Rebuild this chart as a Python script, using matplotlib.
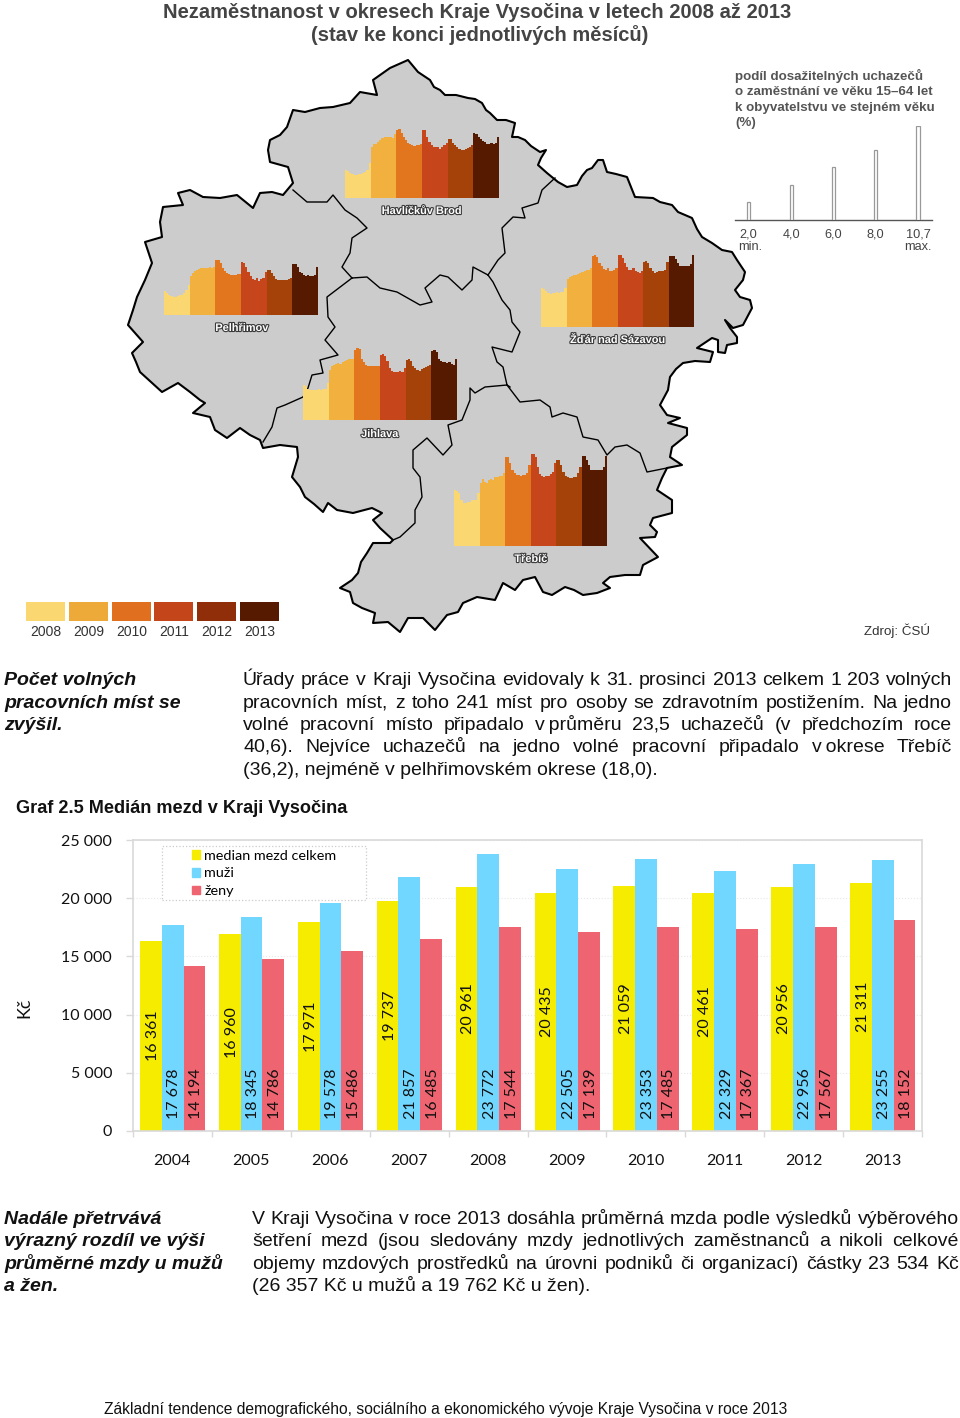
"""Map of unemployment in Vysocina districts with a wage bar chart below."""
import matplotlib
matplotlib.use('Agg')
import matplotlib.pyplot as plt
import matplotlib.patheffects as pe
from matplotlib.patches import Polygon, Patch, Rectangle

W, H = 960, 1418
BODY = 'Liberation Sans'
CHART = 'Lato'

# --- map outlines (image pixels) ---
outline = [
    (408, 60), (413, 66), (418, 72), (430, 80), (434, 87), (440, 90), (445, 95), (456, 95), (468, 98),
    (475, 99), (482, 103), (486, 110), (490, 113), (497, 120), (506, 120), (515, 123), (512, 137), (518, 137),
    (525, 140), (531, 146), (540, 152), (546, 150), (541, 158), (538, 165), (547, 173), (558, 182), (567, 187),
    (577, 185), (582, 176), (587, 170), (592, 168), (598, 160), (603, 160), (607, 172), (616, 174), (627, 177),
    (631, 187), (635, 197), (653, 198), (660, 202), (672, 205), (678, 212), (692, 218), (697, 229), (702, 237),
    (712, 243), (722, 250), (732, 252), (737, 260), (745, 272), (743, 280), (735, 290), (740, 297), (750, 300),
    (752, 308), (743, 325), (733, 328), (725, 320), (730, 328), (737, 337), (737, 343), (727, 345), (725, 353),
    (718, 352), (718, 340), (712, 338), (697, 348), (713, 352), (710, 362), (695, 361), (683, 363), (676, 369),
    (670, 377), (668, 390), (660, 405), (667, 415), (680, 418), (668, 423), (687, 428), (687, 435), (672, 447),
    (670, 457), (682, 465), (667, 468), (662, 478), (657, 490), (672, 500), (672, 513), (653, 518), (650, 525),
    (657, 532), (655, 537), (640, 538), (658, 557), (643, 565), (640, 575), (625, 575), (610, 577), (603, 583),
    (610, 588), (597, 593), (583, 595), (574, 590), (565, 587), (552, 595), (543, 592), (535, 577), (523, 580),
    (515, 590), (503, 583), (495, 600), (477, 597), (463, 603), (458, 612), (447, 615), (435, 630), (423, 618),
    (408, 618), (400, 632), (388, 622), (373, 623), (375, 613), (362, 608), (353, 603), (350, 592), (340, 588),
    (352, 580), (358, 573), (361, 562), (367, 553), (373, 543), (390, 543), (393, 540), (380, 528), (373, 520),
    (382, 513), (372, 508), (353, 513), (337, 510), (328, 503), (323, 512), (314, 504), (305, 497), (300, 487),
    (292, 477), (298, 457), (297, 447), (280, 445), (263, 448), (260, 440), (250, 435), (240, 428), (227, 438),
    (215, 430), (210, 417), (193, 413), (205, 403), (200, 400), (190, 392), (178, 383), (162, 392), (151, 382),
    (140, 372), (136, 362), (132, 353), (143, 342), (128, 325), (133, 310), (137, 297), (145, 280), (152, 263),
    (145, 242), (162, 237), (160, 222), (163, 207), (183, 205), (178, 193), (190, 190), (203, 197), (220, 198),
    (237, 195), (253, 208), (260, 193), (272, 192), (283, 195), (293, 183), (288, 167), (270, 162), (268, 150),
    (270, 140), (280, 135), (287, 127), (293, 110), (305, 112), (320, 108), (333, 107), (350, 103), (360, 92),
    (377, 95), (373, 80), (390, 68),
]
border_pe_hb = [(293, 190), (307, 202), (327, 202), (333, 195), (345, 210), (357, 218), (367, 228), (352, 238),
                (350, 253), (342, 267), (352, 278)]
border_pe_ji = [(352, 278), (327, 297), (328, 317), (335, 327), (325, 340), (338, 355), (320, 360), (323, 373),
                (312, 375), (308, 388), (303, 397), (285, 405), (277, 408), (272, 427), (263, 442)]
border_hb_ji = [(352, 278), (367, 277), (380, 288), (397, 292), (420, 305), (432, 302), (425, 288), (440, 275),
                (448, 277), (462, 290), (472, 280), (473, 267), (488, 275)]
border_hb_zr = [(488, 275), (498, 260), (505, 253), (502, 228), (513, 217), (525, 218), (522, 208), (538, 203),
                (542, 190), (555, 178)]
border_ji_zr = [(488, 275), (493, 282), (502, 300), (510, 310), (512, 322), (520, 332), (512, 352), (492, 347),
                (497, 362), (503, 367), (507, 385), (510, 387)]
border_ji_tr = [(507, 385), (485, 387), (475, 393), (470, 388), (470, 400), (462, 420), (448, 425), (452, 445),
                (443, 455), (427, 438), (413, 450), (413, 468), (420, 477), (422, 497), (415, 510), (415, 523),
                (400, 537), (393, 540)]
border_zr_tr = [(507, 385), (520, 402), (540, 400), (550, 407), (552, 417), (563, 413), (577, 417), (583, 437),
                (598, 440), (607, 455), (615, 447), (627, 445), (640, 453), (647, 472), (667, 468)]

# --- monthly share of unemployed (%), 12 values per year 2008-2013 ---
havlickuv_brod = [
    3.2, 3.1, 2.9, 2.7, 2.6, 2.6, 2.7, 2.7, 2.8, 3.0, 3.2, 4.0,
    5.8, 6.1, 6.2, 6.4, 6.6, 6.8, 7.0, 7.0, 6.9, 7.0, 6.8, 7.3,
    7.7, 7.8, 7.4, 6.9, 6.6, 6.3, 6.1, 6.0, 5.9, 6.0, 6.0, 6.1,
    7.7, 7.7, 7.0, 6.4, 6.0, 5.8, 5.8, 5.8, 5.6, 5.8, 6.0, 6.3,
    6.7, 6.7, 6.3, 6.0, 5.8, 5.6, 5.5, 5.5, 5.6, 5.7, 5.8, 6.0,
    7.4, 7.3, 7.0, 6.7, 6.5, 6.4, 6.2, 6.2, 6.3, 6.2, 6.3, 7.0]
pelhrimov = [
    2.7, 2.5, 2.3, 2.2, 2.0, 2.1, 2.2, 2.3, 2.3, 2.5, 2.8, 3.4,
    4.4, 4.8, 5.0, 5.1, 5.2, 5.3, 5.3, 5.4, 5.3, 5.5, 5.3, 5.5,
    6.3, 6.3, 5.9, 5.3, 5.0, 4.8, 4.7, 4.5, 4.5, 4.5, 4.7, 4.7,
    6.0, 5.9, 5.5, 4.9, 4.4, 4.1, 4.0, 4.2, 3.9, 4.1, 4.2, 4.9,
    5.1, 5.1, 4.8, 4.4, 4.1, 4.0, 4.0, 4.0, 4.0, 4.0, 4.1, 4.2,
    5.8, 5.8, 5.5, 4.9, 4.8, 4.5, 4.4, 4.5, 4.4, 4.4, 4.5, 5.5]
jihlava = [
    4.0, 3.9, 3.5, 3.4, 3.4, 3.4, 3.4, 3.5, 3.4, 3.5, 3.5, 4.2,
    5.7, 6.2, 6.3, 6.4, 6.5, 6.4, 6.6, 6.7, 6.8, 6.9, 7.0, 7.0,
    8.0, 8.2, 8.1, 7.0, 6.6, 6.3, 6.2, 6.1, 6.1, 6.1, 6.1, 6.2,
    7.4, 7.5, 7.3, 6.7, 5.9, 5.6, 5.5, 5.5, 5.5, 5.6, 5.5, 5.9,
    6.8, 6.9, 6.7, 6.2, 5.9, 5.7, 5.6, 5.8, 5.9, 6.0, 6.1, 6.3,
    7.9, 8.0, 7.7, 6.9, 6.7, 6.6, 6.6, 6.5, 6.6, 6.4, 6.3, 7.0]
zdar = [
    4.4, 4.3, 4.1, 3.9, 3.8, 3.9, 3.9, 4.0, 3.9, 4.0, 4.0, 4.4,
    5.5, 5.7, 5.8, 5.9, 5.9, 6.0, 6.1, 6.3, 6.4, 6.5, 6.5, 6.7,
    8.1, 8.2, 8.0, 7.3, 6.9, 6.6, 6.5, 6.7, 6.4, 6.4, 6.5, 6.7,
    8.2, 8.2, 7.9, 7.3, 6.8, 6.5, 6.5, 6.7, 6.4, 6.3, 6.2, 6.4,
    7.4, 7.5, 7.3, 6.7, 6.4, 6.2, 6.3, 6.4, 6.4, 6.4, 6.5, 7.4,
    8.1, 8.1, 8.1, 7.7, 7.3, 7.0, 6.9, 6.9, 7.0, 7.0, 7.2, 8.2]
trebic = [
    6.4, 6.3, 6.0, 5.2, 4.9, 4.9, 5.0, 5.0, 5.2, 5.2, 5.2, 6.0,
    7.2, 7.6, 7.3, 7.2, 7.5, 7.6, 7.5, 7.8, 7.8, 8.0, 8.0, 8.3,
    10.1, 10.1, 9.4, 8.6, 8.3, 8.1, 8.1, 8.0, 8.1, 8.1, 8.3, 9.2,
    10.5, 10.5, 10.1, 9.0, 8.2, 8.0, 7.8, 8.0, 8.0, 8.2, 8.4, 9.4,
    9.8, 9.8, 9.2, 8.4, 8.0, 7.8, 7.7, 7.7, 7.8, 7.9, 8.3, 9.0,
    10.2, 10.2, 9.8, 9.2, 8.6, 8.6, 8.6, 8.7, 8.6, 8.7, 9.0, 10.2]

map_years = ['2008', '2009', '2010', '2011', '2012', '2013']
year_colors = ['#FAD771', '#F2B13E', '#E2761E', '#C7451A', '#A4420A', '#551A00']
legend_colors = ['#FAD771', '#EDAA38', '#E0701F', '#C4451A', '#8F2E08', '#551A00']
scale_values = [2.0, 4.0, 6.0, 8.0, 10.7]
scale_labels = ['2,0', '4,0', '6,0', '8,0', '10,7']

# --- wage chart ---
wage_years = ['2004', '2005', '2006', '2007', '2008', '2009', '2010', '2011', '2012', '2013']
wage_total = [16361, 16960, 17971, 19737, 20961, 20435, 21059, 20461, 20956, 21311]
wage_men = [17678, 18345, 19578, 21857, 23772, 22505, 23353, 22329, 22956, 23255]
wage_women = [14194, 14786, 15486, 16485, 17544, 17139, 17485, 17367, 17567, 18152]


def px_axes(fig, x0, y0, x1, y1):
    """Axes placed by image pixels (y counted from the top)."""
    return fig.add_axes([x0 / W, 1 - y1 / H, (x1 - x0) / W, (y1 - y0) / H])


def justified(ax, words, x0, x1, y, size):
    """Spread the words of one line evenly between x0 and x1."""
    rend = ax.figure.canvas.get_renderer()
    items = [ax.text(x0, y, w, family=BODY, fontsize=size, color='#111111', va='baseline') for w in words]
    widths = [t.get_window_extent(rend).width for t in items]
    gap = (x1 - x0 - sum(widths)) / (len(words) - 1)
    x = x0
    for t, w in zip(items, widths):
        t.set_x(x)
        x += w + gap


def plain_lines(ax, lines, x, ys, size, **kw):
    for line, y in zip(lines, ys):
        ax.text(x, y, line, family=BODY, fontsize=size, va='baseline', color='#111111', **kw)


def district_chart(fig, values, x0, x1, base):
    # 94 px is the height of the 10,7 % scale bar
    ax = px_axes(fig, x0, base - 94, x1, base)
    colors = [c for c in year_colors for _ in range(12)]
    ax.bar(range(72), values, width=1.0, align='edge', color=colors, linewidth=0)
    ax.set_xlim(0, 72)
    ax.set_ylim(0, 10.7)
    ax.axis('off')


def main():
    fig = plt.figure(figsize=(W / 100, H / 100), dpi=100)
    bg = fig.add_axes([0, 0, 1, 1])
    bg.set_xlim(0, W)
    bg.set_ylim(H, 0)
    bg.axis('off')

    # map
    bg.add_patch(Polygon(outline, closed=True, facecolor='#CCCCCC', edgecolor='black',
                         linewidth=1.5, joinstyle='round'))
    for b in (border_pe_hb, border_pe_ji, border_hb_ji, border_hb_zr, border_ji_zr, border_ji_tr, border_zr_tr):
        bg.plot(*zip(*b), color='black', linewidth=1.0)

    # title
    bg.text(477.5, 18, 'Nezaměstnanost v okresech Kraje Vysočina v letech 2008 až 2013', family=BODY,
            weight='bold', fontsize=14.48, color='#444444', ha='center', va='baseline')
    bg.text(480, 41, '(stav ke konci jednotlivých měsíců)', family=BODY, weight='bold', fontsize=14.48,
            color='#444444', ha='center', va='baseline')

    # district charts
    district_chart(fig, havlickuv_brod, 345, 499, 198)
    district_chart(fig, pelhrimov, 164, 318, 315)
    district_chart(fig, jihlava, 303, 457, 420)
    district_chart(fig, zdar, 541, 694, 327)
    district_chart(fig, trebic, 454, 607, 546)
    for name, x, y in [('Havlíčkův Brod', 422, 210), ('Pelhřimov', 242, 327), ('Jihlava', 380, 433),
                       ('Žďár nad Sázavou', 618, 339), ('Třebíč', 531, 558)]:
        bg.text(x, y + 4, name, family=BODY, weight='bold', fontsize=7.9, color='white', ha='center', va='baseline',
                path_effects=[pe.withStroke(linewidth=1.6, foreground='#3A3A3A')])

    # scale of the map charts
    for line, y in zip(['podíl dosažitelných uchazečů', 'o zaměstnání ve věku 15–64 let',
                        'k obyvatelstvu ve stejném věku', '(%)'], [80, 95, 110.5, 126]):
        bg.text(735, y, line, family=BODY, weight='bold', fontsize=9.6, color='#555555', va='baseline')
    scale = px_axes(fig, 735, 126, 932, 220)
    scale_x = [13.7, 56.5, 98.5, 140.7, 183]
    scale.bar(scale_x, scale_values, width=3.2, facecolor='white', edgecolor='#999999', linewidth=0.9)
    scale.set_xlim(0, 197)
    scale.set_ylim(0, 10.7)
    scale.axis('off')
    bg.plot([735, 932], [220, 220], color='#555555', linewidth=1.0)
    for x, lab in zip(scale_x, scale_labels):
        bg.text(735 + x, 237.5, lab, family=BODY, fontsize=9.2, color='#444444', ha='center', va='baseline')
    bg.text(750, 250.5, 'min.', family=BODY, fontsize=9.2, color='#444444', ha='center', va='baseline')
    bg.text(918, 250.5, 'max.', family=BODY, fontsize=9.2, color='#444444', ha='center', va='baseline')

    # year legend of the map
    for i, (year, col) in enumerate(zip(map_years, legend_colors)):
        x = 26 + i * 42.8
        bg.fill_between([x, x + 39], 602, 621, color=col, linewidth=0)
        bg.text(x + 20, 636, year, family=BODY, fontsize=10, color='#333333', ha='center', va='baseline')
    bg.text(930, 635, 'Zdroj: ČSÚ', family=BODY, fontsize=9.6, color='#333333', ha='right', va='baseline')

    # text blocks
    fs = 14.0
    fig.canvas.draw()
    plain_lines(bg, ['Počet volných', 'pracovních míst se', 'zvýšil.'], 4, [685, 708, 730], fs,
                weight='bold', style='italic')
    para1 = ['Úřady práce v Kraji Vysočina evidovaly k 31. prosinci 2013 celkem 1 203 volných',
             'pracovních míst, z toho 241 míst pro osoby se zdravotním postižením. Na jedno',
             'volné pracovní místo připadalo v\u2009průměru 23,5 uchazečů (v předchozím roce',
             '40,6). Nejvíce uchazečů na jedno volné pracovní připadalo v\u2009okrese Třebíč']
    for line, y in zip(para1, [685, 708, 730, 752]):
        justified(bg, line.split(' '), 243, 952, y, fs)
    plain_lines(bg, ['(36,2), nejméně v pelhřimovském okrese (18,0).'], 243, [775], fs)

    bg.text(16, 813, 'Graf 2.5 Medián mezd v Kraji Vysočina', family=BODY, weight='bold', fontsize=13.1,
            color='#111111', va='baseline')

    plain_lines(bg, ['Nadále přetrvává', 'výrazný rozdíl ve výši', 'průměrné mzdy u mužů', 'a žen.'], 4,
                [1224, 1246, 1269, 1291], fs, weight='bold', style='italic')
    para2 = ['V Kraji Vysočina v roce 2013 dosáhla průměrná mzda podle výsledků výběrového',
             'šetření mezd (jsou sledovány mzdy jednotlivých zaměstnanců a nikoli celkové',
             'objemy mzdových prostředků na úrovni podniků či organizací) částky 23 534 Kč']
    for line, y in zip(para2, [1224, 1246, 1269]):
        justified(bg, line.split(' '), 252, 959, y, fs)
    plain_lines(bg, ['(26 357 Kč u mužů a 19 762 Kč u žen).'], 252, [1291], fs)
    bg.text(104, 1414, 'Základní tendence demografického, sociálního a ekonomického vývoje Kraje Vysočina v roce 2013',
            family=BODY, fontsize=11.28, color='#111111', va='baseline')

    # wage bars
    ax = px_axes(fig, 133, 840, 922, 1131)
    ax.patch.set_alpha(0)
    n = len(wage_years)
    bw = 0.276
    colors = ['#F5EC00', '#72D7FF', '#EE6470']
    for k, (vals, col) in enumerate(zip([wage_total, wage_men, wage_women], colors)):
        xs = [i + 0.089 + k * bw for i in range(n)]
        ax.bar(xs, vals, width=bw, align='edge', color=col, linewidth=0, zorder=2)
        for x, v in zip(xs, vals):
            lab = f'{v:,}'.replace(',', ' ')
            if k == 0:
                ax.text(x + bw / 2 + 0.025, v / 2, lab, rotation=90, family=CHART, fontsize=11.5, color='#111111',
                        ha='center', va='center', zorder=3)
            else:
                ax.text(x + bw / 2 + 0.02, 1030, lab, rotation=90, family=CHART, fontsize=11.5, color='#111111',
                        ha='center', va='bottom', zorder=3)
    ax.set_xlim(0, n)
    ax.set_ylim(0, 25000)
    ax.set_yticks(range(0, 25001, 5000))
    ax.set_yticklabels([f'{v:,}'.replace(',', ' ') for v in range(0, 25001, 5000)], family=CHART, fontsize=11.5,
                       color='#111111')
    ax.set_xticks([i + 0.5 for i in range(n)])
    ax.set_xticklabels(wage_years, family=CHART, fontsize=11.5, color='#111111')
    ax.set_xticks(range(n + 1), minor=True)
    ax.tick_params(axis='x', which='major', length=0, pad=16.4)
    ax.tick_params(axis='x', which='minor', length=4, color='#D9D9D9', width=1)
    ax.tick_params(axis='y', length=5, color='#D9D9D9', width=1, pad=10)
    ax.grid(axis='y', color='#E8E8E8', linestyle=':', linewidth=0.8, zorder=1)
    for s in ax.spines.values():
        s.set_color('#D9D9D9')
        s.set_linewidth(1.2)
    bg.text(24, 1008, 'Kč', family=CHART, fontsize=13, rotation=90, color='#111111', ha='center', va='center')

    # legend box is wider than its entries, so the frame is drawn separately
    ax.add_patch(Rectangle((0.3676, 19845), 2.585, 4640, facecolor='white', edgecolor='#CCCCCC',
                           linestyle=':', linewidth=0.9, zorder=2.5))
    handles = [Patch(color=c) for c in colors]
    ax.legend(handles, ['median mezd celkem', 'muži', 'ženy'], prop={'family': CHART, 'size': 10.4},
              loc='upper left', bbox_to_anchor=((192 - 133) / 789, 1 - 9.5 / 291), borderaxespad=0,
              handlelength=0.55, handleheight=0.55, handletextpad=0.3, labelspacing=0.4,
              borderpad=0, frameon=False)

    fig.savefig('out.png', dpi=100)


if __name__ == '__main__':
    main()
